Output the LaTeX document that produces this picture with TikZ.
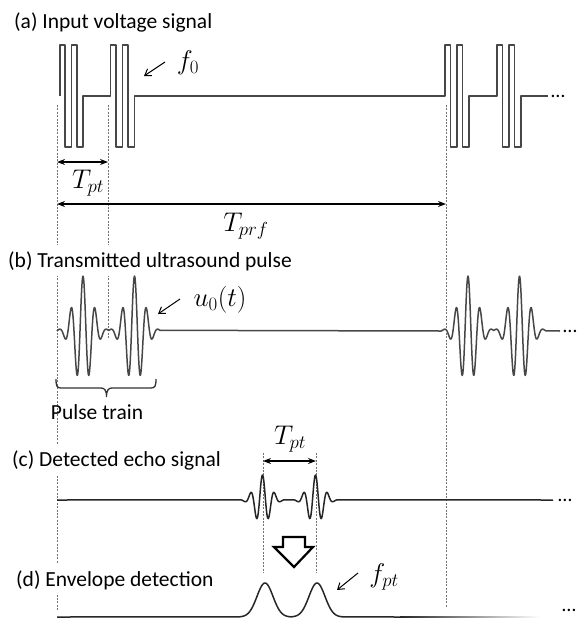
\RequirePackage{fix-cm}
\documentclass[tikz,border=0pt]{standalone}
\usepackage{fontspec}
\setmainfont{Carlito}
\usetikzlibrary{arrows.meta}
\begin{document}
\begin{tikzpicture}[x=1pt,y=-1pt,
  wave/.style={line width=1.5pt, draw=black!72, line join=round},
  wavetwo/.style={line width=1.5pt, draw=black!85, line join=round},
  guide/.style={draw=black!55, line width=0.8pt, dash pattern=on 2pt off 1.4pt},
  dim/.style={line width=1.2pt, {Stealth[length=8pt,width=6pt]}-{Stealth[length=8pt,width=6pt]}},
  pointer/.style={line width=1pt, -{Straight Barb[length=6pt,width=8pt]}},
  title/.style={anchor=base west, font=\fontsize{21.5}{26}\selectfont, fill=white, inner sep=6pt},
  mlab/.style={font=\fontsize{27}{32}\selectfont, inner sep=1pt},
  txt/.style={font=\fontsize{21.5}{26}\selectfont, inner sep=1pt},
  dots/.style={font=\fontsize{20}{24}\selectfont, anchor=west, inner sep=0pt},
  declare function={gb(\u)=55*exp(-(\u)*(\u)/162)*cos(30*(\u));
                    gc(\u)=25*exp(-(\u)*(\u)/115)*cos(30*(\u));
                    ge(\u)=34*exp(-(\u)*(\u)/128);}]
\useasboundingbox (0,0) rectangle (580,619);

% guide lines
\coordinate (gAt) at (57,105);  \coordinate (gAb) at (57,610);
\coordinate (gBt) at (108,105); \coordinate (gBb) at (108,338);
\coordinate (gCt) at (446,105); \coordinate (gCb) at (446,607);
\coordinate (gDt) at (263,453); \coordinate (gDb) at (263,573);
\coordinate (gEt) at (316,453); \coordinate (gEb) at (316,573);
\draw[guide] (gAt) -- (gAb);
\draw[guide] (gBt) -- (gBb);
\draw[guide] (gCt) -- (gCb);
\draw[guide] (gDt) -- (gDb);
\draw[guide] (gEt) -- (gEb);

% titles
\node[title] (ta) at (8,28) {(a) Input voltage signal};
\node[title] (tb) at (2,267) {(b) Transmitted ultrasound pulse};
\node[title] (tc) at (6,466) {(c) Detected echo signal};
\node[title] (td) at (10,586) {(d) Envelope detection};

% (a) input voltage
\draw[wave] (60,96) -- ++(0,-51) -- ++(5,0) -- ++(0,102) -- ++(6.5,0) -- ++(0,-102) -- ++(5.5,0) -- ++(0,102) -- ++(6,0) -- ++(0,-51)
  -- (110.5,96) -- ++(0,-51) -- ++(5.5,0) -- ++(0,102) -- ++(6.5,0) -- ++(0,-102) -- ++(5.5,0) -- ++(0,102) -- ++(6.5,0) -- ++(0,-51)
  -- (445,96) -- ++(0,-51) -- ++(5.5,0) -- ++(0,102) -- ++(6.5,0) -- ++(0,-102) -- ++(5.5,0) -- ++(0,102) -- ++(6.5,0) -- ++(0,-51)
  -- (497,96) -- ++(0,-51) -- ++(5.5,0) -- ++(0,102) -- ++(6.5,0) -- ++(0,-102) -- ++(5.5,0) -- ++(0,102) -- ++(6.5,0) -- ++(0,-51)
  -- (548,96);
\node[dots] (da) at (551,96) {…};

\node[mlab] (f0) at (188,63) {$f_0$};
\coordinate (f0a) at (165,62); \coordinate (f0b) at (144,76);
\draw[pointer] (f0a) -- (f0b);

\coordinate (d1a) at (57,162); \coordinate (d1b) at (108,162);
\draw[dim] (d1a) -- (d1b);
\node[mlab] (tpt1) at (88,183) {$T_{pt}$};
\coordinate (d2a) at (57,204); \coordinate (d2b) at (446,204);
\draw[dim] (d2a) -- (d2b);
\node[mlab] (tprf) at (246,226) {$T_{prf}$};

% (b) transmitted pulse
\draw[wave] (57,331) -- plot[domain=58:108.75,samples=120] (\x,{331-gb(\x-83)})
  -- plot[domain=108.75:160,samples=120] (\x,{331-gb(\x-134.5)})
  -- (441,331) -- plot[domain=441:493.75,samples=120] (\x,{331-gb(\x-468)})
  -- plot[domain=493.75:546,samples=120] (\x,{331-gb(\x-519.5)})
  -- (560,331);
\node[dots] (db) at (563,331) {…};

\node[mlab] (u0) at (220,300) {$u_0(t)$};
\coordinate (u0a) at (180,299); \coordinate (u0b) at (158,314);
\draw[pointer] (u0a) -- (u0b);

\draw[line width=1.3pt, black!80] (56,379) .. controls (56,386) and (57,388) .. (61,388) -- (101,388)
  .. controls (104.5,388) and (106.5,390) .. (106.5,397) .. controls (106.5,390) and (108.5,388) .. (112,388)
  -- (151,388) .. controls (155,388) and (156,386) .. (156,379);
\node[txt] (ptrain) at (97,412) {Pulse train};

% (c) detected echo
\draw[wavetwo] (57,500) -- plot[domain=238:289,samples=120] (\x,{500-gc(\x-262.5)})
  -- plot[domain=289:340,samples=120] (\x,{500-gc(\x-315.5)}) -- (553,500);
\node[dots] (dc) at (558,500) {…};

\coordinate (d3a) at (263,461); \coordinate (d3b) at (316,461);
\draw[dim] (d3a) -- (d3b);
\node[mlab] (tpt2) at (290,439) {$T_{pt}$};

% hollow arrow
\draw[line width=2.2pt, line join=miter] (283,537) -- (305,537) -- (305,547) -- (313,547) -- (294,567) -- (274,547) -- (283,547) -- cycle;

% (d) envelope
\draw[wavetwo] (57,617) -- plot[domain=238:291,samples=100] (\x,{617-ge(\x-265)})
  -- plot[domain=291:345,samples=100] (\x,{617-ge(\x-317)}) -- (400,617);
\shade[left color=black!85, right color=white] (400,616.25) rectangle (540,617.75);
\node[dots] (dd) at (562,610) {…};

\node[mlab] (fpt) at (384,577) {$f_{pt}$};
\coordinate (fpa) at (358,573); \coordinate (fpb) at (337,590);
\draw[pointer] (fpa) -- (fpb);
\end{tikzpicture}
\end{document}
